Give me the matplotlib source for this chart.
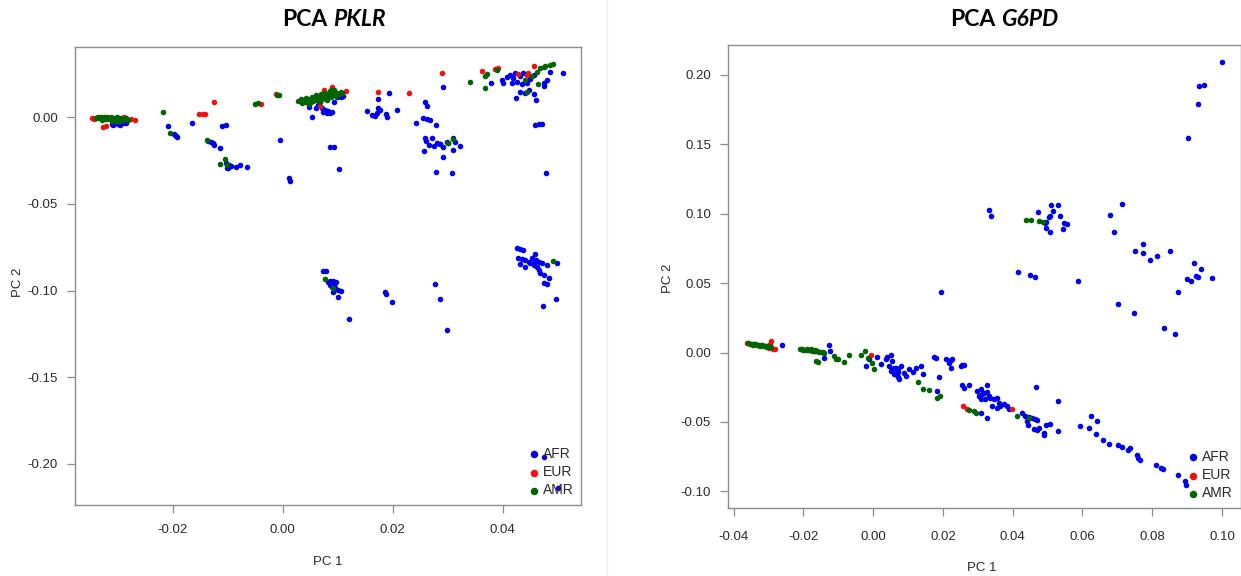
import matplotlib
matplotlib.use("Agg")
import matplotlib.pyplot as plt
from matplotlib.lines import Line2D

plt.rcParams['axes.unicode_minus'] = False
plt.rcParams['font.family'] = ['Liberation Sans', 'DejaVu Sans']

# ---------------- data ----------------
groups = ["AFR", "EUR", "AMR"]
group_colors = ["#0000ee", "#ee1111", "#006400"]

pklr_afr = [
    (-0.0308, -0.0044), (-0.0305, -0.0035), (-0.0299, -0.0039), (-0.0290, -0.0035), (-0.0284, -0.0031),
    (-0.0296, -0.0042), (-0.0311, -0.0040),
    (-0.0208, -0.0050), (-0.0198, -0.0098), (-0.0194, -0.0108), (-0.0192, -0.0113), (-0.0196, -0.0104),
    (-0.0164, -0.0035), (-0.0110, -0.0050), (-0.0103, -0.0044),
    (-0.0135, -0.0137), (-0.0130, -0.0141), (-0.0126, -0.0147), (-0.0125, -0.0162), (-0.0114, -0.0179),
    (-0.0005, -0.0129),
    (-0.0103, -0.0262), (-0.0101, -0.0295), (-0.0097, -0.0275), (-0.0094, -0.0281), (-0.0085, -0.0285),
    (-0.0077, -0.0277), (-0.0065, -0.0285), (-0.0099, -0.0290),
    (0.0012, -0.0352), (0.0013, -0.0366),
    (0.0086, -0.0173), (0.0093, -0.0173), (0.0103, -0.0299),
    (0.0047, 0.0061), (0.0053, 0.0000), (0.0071, 0.0052), (0.0074, 0.0032), (0.0080, 0.0027),
    (0.0086, 0.0023), (0.0077, 0.0042), (0.0083, 0.0038), (0.0089, 0.0032), (0.0098, 0.0115),
    (0.0106, 0.0119), (0.0110, 0.0123), (0.0093, 0.0090), (0.0065, 0.0070), (0.0060, 0.0055),
    (0.0193, 0.0138), (0.0173, 0.0104), (0.0154, 0.0036), (0.0162, 0.0013), (0.0168, 0.0008),
    (0.0172, 0.0023), (0.0174, 0.0052), (0.0177, 0.0042), (0.0188, 0.0019), (0.0190, 0.0003),
    (0.0207, 0.0042),
    (0.0291, 0.0177), (0.0259, 0.0090), (0.0262, 0.0067), (0.0242, -0.0031), (0.0255, -0.0006),
    (0.0262, -0.0012), (0.0268, -0.0016), (0.0278, -0.0044),
    (0.0259, -0.0118), (0.0261, -0.0135), (0.0271, -0.0118), (0.0265, -0.0160), (0.0256, -0.0194),
    (0.0274, -0.0166), (0.0280, -0.0150), (0.0286, -0.0154), (0.0292, -0.0169), (0.0298, -0.0141),
    (0.0301, -0.0150), (0.0310, -0.0121), (0.0313, -0.0141), (0.0322, -0.0166), (0.0309, -0.0189),
    (0.0291, -0.0227), (0.0285, -0.0154),
    (0.0279, -0.0314), (0.0308, -0.0323),
    (0.0378, 0.0196),
    (0.0398, 0.0215), (0.0401, 0.0196), (0.0407, 0.0234), (0.0413, 0.0244), (0.0419, 0.0225),
    (0.0425, 0.0205), (0.0431, 0.0238), (0.0437, 0.0254), (0.0444, 0.0200), (0.0450, 0.0219),
    (0.0456, 0.0244), (0.0416, 0.0200), (0.0422, 0.0254), (0.0435, 0.0192),
    (0.0431, 0.0148), (0.0441, 0.0138), (0.0447, 0.0157), (0.0456, 0.0132), (0.0461, 0.0100),
    (0.0423, 0.0113), (0.0474, 0.0182), (0.0480, 0.0215), (0.0485, 0.0260), (0.0509, 0.0254),
    (0.0474, 0.0196),
    (0.0459, -0.0044), (0.0465, -0.0040), (0.0471, -0.0040), (0.0479, -0.0320),
    (0.0073, -0.0887), (0.0079, -0.0885), (0.0083, -0.0948), (0.0086, -0.0945), (0.0092, -0.0945),
    (0.0097, -0.0950), (0.0085, -0.0968), (0.0089, -0.0977), (0.0095, -0.0987), (0.0101, -0.0996),
    (0.0106, -0.1000), (0.0091, -0.1006), (0.0100, -0.1035), (0.0087, -0.0962), (0.0093, -0.0968),
    (0.0120, -0.1165), (0.0185, -0.1010), (0.0188, -0.1021), (0.0198, -0.1067), (0.0277, -0.0962),
    (0.0286, -0.1048), (0.0298, -0.1229),
    (0.0425, -0.0756), (0.0431, -0.0762), (0.0437, -0.0765), (0.0428, -0.0813), (0.0435, -0.0819),
    (0.0441, -0.0823), (0.0447, -0.0833), (0.0453, -0.0813), (0.0459, -0.0790), (0.0461, -0.0823),
    (0.0465, -0.0833), (0.0471, -0.0842), (0.0480, -0.0852), (0.0431, -0.0846), (0.0441, -0.0862),
    (0.0456, -0.0852), (0.0465, -0.0881), (0.0468, -0.0900), (0.0474, -0.0910), (0.0483, -0.0929),
    (0.0474, -0.0958), (0.0480, -0.0962), (0.0498, -0.0842), (0.0473, -0.1087), (0.0497, -0.1050),
    (0.0462, -0.0862), (0.0457, -0.0839), (0.0450, -0.0842),
    (0.0475, -0.1960), (0.0500, -0.2137),
]

pklr_eur = [
    (-0.0346, -0.0006), (-0.0343, -0.0008), (-0.0339, -0.0004), (-0.0326, -0.0054), (-0.0322, -0.0050),
    (-0.0289, 0.0003), (-0.0275, -0.0012), (-0.0269, -0.0016),
    (-0.0152, 0.0019), (-0.0145, 0.0019), (-0.0141, 0.0019), (-0.0124, 0.0087), (-0.0039, 0.0075),
    (-0.0012, 0.0134),
    (0.0089, 0.0173), (0.0115, 0.0153), (0.0068, 0.0065), (0.0049, 0.0081), (0.0040, 0.0090),
    (0.0075, 0.0160),
    (0.0173, 0.0144), (0.0230, 0.0138), (0.0289, 0.0254), (0.0363, 0.0267), (0.0386, 0.0277),
    (0.0392, 0.0283),
    (0.0456, 0.0296), (0.0446, 0.0254), (0.0443, 0.0244), (0.0428, 0.0250),
]

pklr_amr = [
    (-0.0340, -0.0002), (-0.0336, 0.0001), (-0.0333, -0.0005), (-0.0330, 0.0002), (-0.0327, -0.0008),
    (-0.0324, 0.0000), (-0.0321, -0.0012), (-0.0318, -0.0003), (-0.0315, -0.0010), (-0.0312, 0.0001),
    (-0.0309, -0.0015), (-0.0306, -0.0006), (-0.0303, -0.0020), (-0.0300, -0.0008), (-0.0297, -0.0013),
    (-0.0294, -0.0003), (-0.0291, -0.0018), (-0.0288, -0.0010), (-0.0285, -0.0005), (-0.0282, -0.0015),
    (-0.0329, -0.0016), (-0.0319, 0.0004), (-0.0311, -0.0022), (-0.0302, 0.0002), (-0.0296, -0.0024),
    (-0.0218, 0.0032), (-0.0205, -0.0089), (-0.0137, -0.0131), (-0.0114, -0.0270), (-0.0104, -0.0242),
    (-0.0102, -0.0275), (-0.0045, 0.0081), (-0.0050, 0.0079), (-0.0007, 0.0127), (-0.0011, 0.0130),
    (0.0028, 0.0092), (0.0033, 0.0105), (0.0035, 0.0080), (0.0040, 0.0098), (0.0043, 0.0112),
    (0.0046, 0.0085), (0.0050, 0.0104), (0.0053, 0.0120), (0.0055, 0.0092), (0.0058, 0.0110),
    (0.0061, 0.0128), (0.0063, 0.0098), (0.0066, 0.0117), (0.0069, 0.0135), (0.0071, 0.0104),
    (0.0074, 0.0124), (0.0077, 0.0142), (0.0079, 0.0110), (0.0082, 0.0130), (0.0085, 0.0150),
    (0.0087, 0.0118), (0.0090, 0.0138), (0.0093, 0.0155), (0.0096, 0.0125), (0.0099, 0.0143),
    (0.0102, 0.0132), (0.0105, 0.0148), (0.0108, 0.0140), (0.0048, 0.0075), (0.0068, 0.0090),
    (0.0088, 0.0160), (0.0080, 0.0100),
    (0.0301, -0.0146), (0.0310, -0.0127), (0.0341, 0.0205), (0.0368, 0.0238), (0.0371, 0.0248),
    (0.0368, 0.0171), (0.0389, 0.0275),
    (0.0468, 0.0283), (0.0477, 0.0296), (0.0486, 0.0302), (0.0491, 0.0306), (0.0462, 0.0263),
    (0.0453, 0.0238), (0.0441, 0.0215), (0.0463, 0.0190), (0.0444, 0.0148), (0.0474, 0.0292),
    (0.0076, -0.0931), (0.0092, -0.0987), (0.0492, -0.0827),
]

g6pd_afr = [
    (-0.0261, 0.0053), (-0.0127, 0.0055), (-0.0125, 0.0012), (-0.0140, -0.0036),
    (-0.0021, -0.0097), (-0.0011, -0.0043), (0.0012, -0.0029), (0.0022, -0.0084), (0.0036, -0.0048),
    (0.0041, -0.0029), (0.0046, -0.0097), (0.0051, -0.0019), (0.0055, -0.0061), (0.0060, -0.0108),
    (0.0065, -0.0144), (0.0070, -0.0120), (0.0074, -0.0192), (0.0079, -0.0097), (0.0089, -0.0144),
    (0.0093, -0.0168), (0.0103, -0.0120), (0.0113, -0.0140), (0.0122, -0.0108), (0.0136, -0.0097),
    (0.0144, -0.0156), (0.0174, -0.0029), (0.0179, -0.0036), (0.0184, -0.0277), (0.0189, -0.0173),
    (0.0208, -0.0043), (0.0217, -0.0072), (0.0222, -0.0108), (0.0227, -0.0048), (0.0251, -0.0097),
    (0.0055, -0.0120), (0.0065, -0.0108), (0.0070, -0.0139), (0.0060, -0.0156), (0.0051, -0.0132),
    (0.0068, -0.0163), (0.0072, -0.0173), (0.0222, -0.0055),
    (0.0255, -0.0092), (0.0260, -0.0092), (0.0260, -0.0252), (0.0274, -0.0236), (0.0255, -0.0236),
    (0.0298, -0.0277), (0.0308, -0.0265), (0.0313, -0.0301), (0.0317, -0.0288), (0.0327, -0.0284),
    (0.0331, -0.0313), (0.0336, -0.0325), (0.0346, -0.0337), (0.0355, -0.0325), (0.0360, -0.0361),
    (0.0365, -0.0385), (0.0374, -0.0373), (0.0384, -0.0385), (0.0389, -0.0404), (0.0303, -0.0313),
    (0.0322, -0.0337), (0.0341, -0.0385), (0.0355, -0.0397), (0.0327, -0.0236), (0.0308, -0.0337),
    (0.0308, -0.0438), (0.0327, -0.0474),
    (0.0427, -0.0433), (0.0436, -0.0457), (0.0446, -0.0462), (0.0455, -0.0469), (0.0465, -0.0476),
    (0.0470, -0.0486), (0.0441, -0.0493), (0.0443, -0.0524), (0.0460, -0.0553), (0.0470, -0.0558),
    (0.0474, -0.0541), (0.0491, -0.0596), (0.0496, -0.0524), (0.0506, -0.0517), (0.0466, -0.0248),
    (0.0529, -0.0349), (0.0530, -0.0565), (0.0489, -0.0577),
    (0.0593, -0.0529), (0.0619, -0.0541), (0.0625, -0.0457), (0.0643, -0.0493), (0.0639, -0.0589),
    (0.0660, -0.0630), (0.0676, -0.0656), (0.0703, -0.0666), (0.0714, -0.0678), (0.0731, -0.0702),
    (0.0736, -0.0690), (0.0757, -0.0741), (0.0765, -0.0775), (0.0758, -0.0758), (0.0810, -0.0811),
    (0.0831, -0.0841), (0.0826, -0.0830), (0.0873, -0.0885), (0.0893, -0.0926), (0.0896, -0.0957),
    (0.0703, 0.0348), (0.0748, 0.0283), (0.0833, 0.0175), (0.0865, 0.0137),
    (0.1001, 0.2096), (0.0934, 0.1920), (0.0949, 0.1925), (0.0931, 0.1793), (0.0902, 0.1545),
    (0.0331, 0.1026), (0.0337, 0.0983),
    (0.0473, 0.1010), (0.0493, 0.0937), (0.0496, 0.0942), (0.0510, 0.1062), (0.0531, 0.1062),
    (0.0515, 0.1021), (0.0503, 0.0974), (0.0508, 0.0986), (0.0536, 0.0981), (0.0546, 0.0932),
    (0.0557, 0.0927), (0.0495, 0.0894), (0.0508, 0.0870), (0.0544, 0.0889),
    (0.0415, 0.0584), (0.0449, 0.0557), (0.0465, 0.0545), (0.0587, 0.0516),
    (0.0679, 0.0990), (0.0713, 0.1072), (0.0689, 0.0870),
    (0.0751, 0.0731), (0.0773, 0.0783), (0.0773, 0.0716), (0.0793, 0.0668), (0.0813, 0.0697),
    (0.0851, 0.0731),
    (0.0919, 0.0642), (0.0939, 0.0601), (0.0900, 0.0529), (0.0910, 0.0519), (0.0925, 0.0552),
    (0.0931, 0.0541), (0.0971, 0.0534), (0.0875, 0.0433),
    (0.0195, 0.0435),
]

g6pd_eur = [
    (-0.0362, 0.0067), (-0.0292, 0.0084), (-0.0287, 0.0029), (-0.0280, 0.0024), (-0.0296, 0.0060),
    (-0.0300, 0.0035), (-0.0169, 0.0012), (-0.0175, 0.0010), (-0.0007, -0.0019), (0.0258, -0.0385),
    (0.0268, -0.0404), (0.0398, -0.0409),
]

g6pd_amr = [
    (-0.0358, 0.0066), (-0.0354, 0.0065), (-0.0350, 0.0064), (-0.0346, 0.0062), (-0.0342, 0.0061),
    (-0.0338, 0.0060), (-0.0334, 0.0058), (-0.0330, 0.0057), (-0.0326, 0.0055), (-0.0322, 0.0053),
    (-0.0318, 0.0052), (-0.0314, 0.0050), (-0.0310, 0.0048), (-0.0306, 0.0046), (-0.0302, 0.0045),
    (-0.0298, 0.0043), (-0.0294, 0.0042), (-0.0345, 0.0058), (-0.0325, 0.0050), (-0.0305, 0.0040),
    (-0.0211, 0.0024), (-0.0205, 0.0023), (-0.0200, 0.0022), (-0.0195, 0.0021), (-0.0190, 0.0019),
    (-0.0185, 0.0018), (-0.0180, 0.0016), (-0.0175, 0.0015), (-0.0170, 0.0013), (-0.0165, 0.0011),
    (-0.0160, 0.0009), (-0.0155, 0.0006), (-0.0150, 0.0004), (-0.0145, 0.0002), (-0.0140, 0.0000),
    (-0.0190, 0.0026), (-0.0178, 0.0025), (-0.0168, 0.0022), (-0.0164, -0.0061), (-0.0157, -0.0068),
    (-0.0113, -0.0025), (-0.0107, -0.0048), (-0.0100, -0.0043), (-0.0085, -0.0068), (-0.0069, -0.0017),
    (-0.0035, -0.0019), (-0.0023, 0.0010), (-0.0016, -0.0036), (-0.0002, -0.0072), (0.0003, -0.0116),
    (0.0129, -0.0212), (0.0144, -0.0265), (0.0160, -0.0270), (0.0182, -0.0325), (0.0191, -0.0313),
    (0.0274, -0.0416), (0.0289, -0.0424), (0.0296, -0.0433), (0.0413, -0.0457), (0.0446, -0.0474),
    (0.0439, 0.0952), (0.0453, 0.0954), (0.0474, 0.0949), (0.0487, 0.0942),
]

pklr_xticks = [-0.02, 0.00, 0.02, 0.04]
pklr_yticks = [0.00, -0.05, -0.10, -0.15, -0.20]
g6pd_xticks = [-0.04, -0.02, 0.00, 0.02, 0.04, 0.06, 0.08, 0.10]
g6pd_yticks = [0.20, 0.15, 0.10, 0.05, 0.00, -0.05, -0.10]

# ---------------- figure ----------------
W, H = 1241, 576
fig = plt.figure(figsize=(W / 100, H / 100), dpi=100)


def px_rect(left, top, right, bottom):
    return [left / W, 1 - bottom / H, (right - left) / W, (bottom - top) / H]


ax1 = fig.add_axes(px_rect(74.7, 47.3, 581, 505))
ax2 = fig.add_axes(px_rect(727.7, 45, 1240.5, 508))

TXT = "#2a2a2a"
FRAME = "#8c8c8c"


def draw_panel(ax, series, xlim, ylim, xticks, yticks, xpad):
    for pts, name, col in zip(series, groups, group_colors):
        xs = [p[0] for p in pts]
        ys = [p[1] for p in pts]
        ax.scatter(xs, ys, s=16, c=col, linewidths=0, label=name, zorder=3)
    ax.set_xlim(*xlim)
    ax.set_ylim(*ylim)
    ax.set_xticks(xticks)
    ax.set_yticks(yticks)
    ax.set_xticklabels([f"{v:.2f}" for v in xticks])
    ax.set_yticklabels([f"{v:.2f}" for v in yticks])
    ax.tick_params(direction='out', length=6, width=0.9, color=FRAME,
                   labelsize=9.5, labelcolor=TXT, pad=6)
    ax.tick_params(axis='x', pad=xpad)
    for sp in ax.spines.values():
        sp.set_color(FRAME)
        sp.set_linewidth(1.0)
    leg = ax.legend(loc='lower right', frameon=False, fontsize=10,
                    handletextpad=0.15, labelspacing=0.3, borderpad=0.2,
                    borderaxespad=0.35, handlelength=1.0, markerscale=1.35)
    for t in leg.get_texts():
        t.set_color(TXT)


draw_panel(ax1, [pklr_afr, pklr_eur, pklr_amr], (-0.0378, 0.0542), (-0.2237, 0.0404),
           pklr_xticks, pklr_yticks, 8)
draw_panel(ax2, [g6pd_afr, g6pd_eur, g6pd_amr], (-0.0417, 0.1053), (-0.112, 0.2216),
           g6pd_xticks, g6pd_yticks, 10.5)


def fig_text_px(x, y, s, **kw):
    return fig.text(x / W, 1 - y / H, s, **kw)


# axis labels
fig_text_px(328, 562, "PC 1", ha='center', va='center', fontsize=9.5, color=TXT)
fig_text_px(18, 282, "PC 2", ha='center', va='center', fontsize=9.5, color=TXT, rotation=90)
fig_text_px(982, 568, "PC 1", ha='center', va='center', fontsize=9.5, color=TXT)
fig_text_px(668, 278, "PC 2", ha='center', va='center', fontsize=9.5, color=TXT, rotation=90)

# separator between the two panels
fig.add_artist(Line2D([607 / W, 607 / W], [0, 1], color="#ececec", linewidth=1.0))

# titles: "PCA" bold + gene name bold italic
renderer = fig.canvas.get_renderer()


def two_part_title(cx, baseline_y, gene):
    kw = dict(fontsize=16.5, fontweight='bold', family=['Lato', 'DejaVu Sans'], color='black', va='baseline')
    t1 = fig_text_px(0, baseline_y, "PCA", ha='left', **kw)
    t2 = fig_text_px(0, baseline_y, gene, ha='left', style='italic', **kw)
    w1 = t1.get_window_extent(renderer).width
    w2 = t2.get_window_extent(renderer).width
    gap = 5.5
    x0 = cx - (w1 + gap + w2) / 2
    t1.set_x(x0 / W)
    t2.set_x((x0 + w1 + gap) / W)


two_part_title(334, 26, "PKLR")
two_part_title(1004, 26, "G6PD")

fig.savefig("out.png", dpi=100, facecolor='white')
